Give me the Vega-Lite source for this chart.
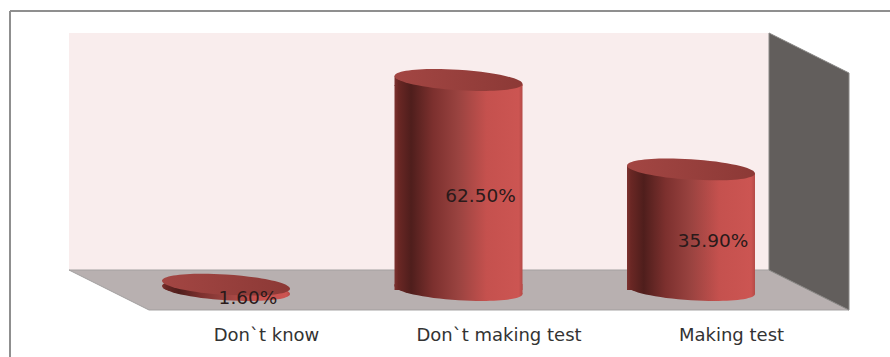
{
  "$schema": "https://vega.github.io/schema/vega-lite/v6.json",
  "width": 890,
  "height": 357,
  "padding": 0,
  "autosize": {"type": "none"},
  "background": "#ffffff",
  "view": {"stroke": null},
  "datasets": {
    "answers": [
      {"category": "Don`t know", "pos": 1, "value": 1.6, "base": 0, "label": "1.60%"},
      {"category": "Don`t making test", "pos": 2, "value": 62.5, "base": 0, "label": "62.50%"},
      {"category": "Making test", "pos": 3, "value": 35.9, "base": 0, "label": "35.90%"}
    ],
    "backWall": [{"pos": 0.3247, "pos2": 3.3355, "value": 76.49, "base": 5.95}],
    "floor": [
      {"value": 5.95, "pos": 0.3247, "pos2": 3.3355},
      {"value": -5.95, "pos": 0.6688, "pos2": 3.6796}
    ],
    "sideWall": [
      {"pos": 3.3355, "value": 76.49, "base": 5.95},
      {"pos": 3.6796, "value": 64.58, "base": -5.95}
    ],
    "frameTop": [{"pos": 0.071, "pos2": 3.856, "value": 83.04}],
    "frameLeft": [{"pos": 0.071, "value": 83.04, "base": -19.94}]
  },
  "encoding": {
    "x": {
      "field": "pos",
      "type": "quantitative",
      "scale": {"domain": [0.02796, 3.85591], "nice": false, "zero": false, "padding": 0},
      "axis": {
        "values": [1, 2, 3],
        "title": null,
        "grid": false,
        "domain": false,
        "ticks": false,
        "offset": -31,
        "labelPadding": 0,
        "labelOffset": 40,
        "labelFont": "DejaVu Sans",
        "labelFontSize": 18,
        "labelColor": "#333333",
        "labelOverlap": false,
        "labelFlush": false,
        "labelExpr": "datum.value == 1 ? 'Don`t know' : datum.value == 2 ? 'Don`t making test' : 'Making test'"
      }
    },
    "y": {
      "field": "value",
      "type": "quantitative",
      "stack": null,
      "scale": {"domain": [-19.94, 86.31], "nice": false, "zero": false},
      "axis": null
    }
  },
  "layer": [
    {
      "data": {"name": "frameTop"},
      "mark": {"type": "rule", "color": "#8f8f8f", "strokeWidth": 2},
      "encoding": {"x2": {"field": "pos2"}}
    },
    {
      "data": {"name": "frameLeft"},
      "mark": {"type": "rule", "color": "#8f8f8f", "strokeWidth": 2},
      "encoding": {"y2": {"field": "base"}}
    },
    {
      "data": {"name": "backWall"},
      "mark": {"type": "rect", "color": "#f9eded"},
      "encoding": {"x2": {"field": "pos2"}, "y2": {"field": "base"}}
    },
    {
      "data": {"name": "floor"},
      "mark": {"type": "area", "orient": "horizontal", "color": "#b8b0b0", "stroke": "#a3a0a0", "strokeWidth": 1},
      "encoding": {"x": {"field": "pos", "type": "quantitative", "stack": null}, "x2": {"field": "pos2"}}
    },
    {
      "data": {"name": "sideWall"},
      "mark": {"type": "area", "color": "#625e5c", "stroke": "#8a8886", "strokeWidth": 1},
      "encoding": {"y2": {"field": "base"}}
    },
    {
      "description": "lower rim of each cylinder",
      "data": {"name": "answers"},
      "mark": {
        "type": "point", "filled": true, "opacity": 1, "size": 16384, "strokeWidth": 0,
        "shape": "M1 0.0625C1 0.1509 0.5523 0.1945 0 0.16C-0.5523 0.1255 -1 0.0259 -1 -0.0625C-1 -0.1509 -0.5523 -0.1945 0 -0.16C0.5523 -0.1255 1 -0.0259 1 0.0625Z",
        "fill": {"gradient": "linear", "x1": 0, "x2": 1, "y1": 0, "y2": 0, "stops": [
          {"offset": 0, "color": "#7d3230"}, {"offset": 0.03, "color": "#6a2724"}, {"offset": 0.13, "color": "#4f1e1c"},
          {"offset": 0.3, "color": "#7c302e"}, {"offset": 0.5, "color": "#9a4340"}, {"offset": 0.72, "color": "#c5514e"},
          {"offset": 0.97, "color": "#cc5552"}, {"offset": 1, "color": "#b54a47"}
        ]}
      },
      "encoding": {"y": {"datum": 0}}
    },
    {
      "description": "slanted joint where the body meets the lower rim",
      "data": {"name": "answers"},
      "transform": [{"filter": "datum.value > 5"}],
      "mark": {
        "type": "point", "filled": true, "opacity": 1, "size": 16384, "strokeWidth": 0,
        "shape": "M-1 -0.094L1 -0.094L1 0.0625L-1 -0.0625Z",
        "fill": {"gradient": "linear", "x1": 0, "x2": 1, "y1": 0, "y2": 0, "stops": [
          {"offset": 0, "color": "#7d3230"}, {"offset": 0.03, "color": "#6a2724"}, {"offset": 0.13, "color": "#4f1e1c"},
          {"offset": 0.3, "color": "#7c302e"}, {"offset": 0.5, "color": "#9a4340"}, {"offset": 0.72, "color": "#c5514e"},
          {"offset": 0.97, "color": "#cc5552"}, {"offset": 1, "color": "#b54a47"}
        ]}
      },
      "encoding": {"y": {"datum": 0}}
    },
    {
      "description": "cylinder body",
      "data": {"name": "answers"},
      "transform": [{"filter": "datum.value > 5"}],
      "mark": {
        "type": "bar", "size": 128, "yOffset": 5, "y2Offset": -5,
        "fill": {"gradient": "linear", "x1": 0, "x2": 1, "y1": 0, "y2": 0, "stops": [
          {"offset": 0, "color": "#7d3230"}, {"offset": 0.03, "color": "#6a2724"}, {"offset": 0.13, "color": "#4f1e1c"},
          {"offset": 0.3, "color": "#7c302e"}, {"offset": 0.5, "color": "#9a4340"}, {"offset": 0.72, "color": "#c5514e"},
          {"offset": 0.97, "color": "#cc5552"}, {"offset": 1, "color": "#b54a47"}
        ]}
      }
    },
    {
      "description": "slanted joint where the body meets the top face",
      "data": {"name": "answers"},
      "transform": [{"filter": "datum.value > 5"}],
      "mark": {
        "type": "point", "filled": true, "opacity": 1, "size": 16384, "strokeWidth": 0,
        "shape": "M-1 -0.0625L1 0.0625L1 0.094L-1 0.094Z",
        "fill": {"gradient": "linear", "x1": 0, "x2": 1, "y1": 0, "y2": 0, "stops": [
          {"offset": 0, "color": "#7d3230"}, {"offset": 0.03, "color": "#6a2724"}, {"offset": 0.13, "color": "#4f1e1c"},
          {"offset": 0.3, "color": "#7c302e"}, {"offset": 0.5, "color": "#9a4340"}, {"offset": 0.72, "color": "#c5514e"},
          {"offset": 0.97, "color": "#cc5552"}, {"offset": 1, "color": "#b54a47"}
        ]}
      }
    },
    {
      "description": "top face of each cylinder",
      "data": {"name": "answers"},
      "mark": {
        "type": "point", "filled": true, "opacity": 1, "size": 16384, "strokeWidth": 0,
        "shape": "M1 0.0625C1 0.1509 0.5523 0.1945 0 0.16C-0.5523 0.1255 -1 0.0259 -1 -0.0625C-1 -0.1509 -0.5523 -0.1945 0 -0.16C0.5523 -0.1255 1 -0.0259 1 0.0625Z",
        "fill": {"gradient": "linear", "x1": 0, "x2": 1, "y1": 0, "y2": 0, "stops": [
          {"offset": 0, "color": "#a34643"}, {"offset": 1, "color": "#8c3936"}
        ]}
      }
    },
    {
      "description": "value labels, anchored at the mean of each cylinder's top and base",
      "data": {"name": "answers"},
      "transform": [
        {"fold": ["value", "base"], "as": ["end", "level"]},
        {"aggregate": [{"op": "mean", "field": "level", "as": "mid"}], "groupby": ["pos", "label"]}
      ],
      "mark": {"type": "text", "font": "DejaVu Sans", "fontSize": 18.5, "color": "#2a1a1a", "align": "center", "baseline": "middle", "xOffset": 22, "yOffset": 11},
      "encoding": {
        "y": {"field": "mid", "type": "quantitative", "stack": null},
        "text": {"field": "label", "type": "nominal"}
      }
    }
  ]
}
